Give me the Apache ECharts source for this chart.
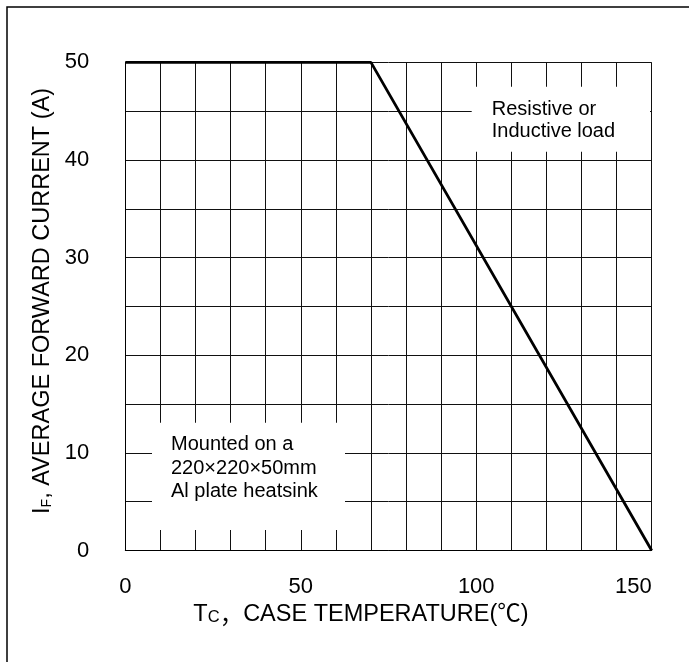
<!DOCTYPE html>
<html>
<head>
<meta charset="utf-8">
<script src="https://cdn.jsdelivr.net/npm/echarts@6/dist/echarts.min.js"></script>
<style>
  html, body { margin: 0; padding: 0; background: #fff; }
  #chart { width: 689px; height: 662px; }
</style>
</head>
<body>
<div id="chart"></div>
<script>
// derating curve: case temperature (°C) vs average forward current (A)
var caseTemp = [0, 70, 150];
var fwdCurrent = [50, 50, 0];

var xTickLabels = [0, 50, 100, 150];
var yTickLabels = [0, 10, 20, 30, 40, 50];

var loadNote = ['Resistive or', 'Inductive load'];
var mountNote = ['Mounted on a', '220×220×50mm', 'Al plate heatsink'];

var FONT = '"Liberation Sans", Arial, "Noto Sans CJK SC", sans-serif';

var chart = echarts.init(document.getElementById('chart'));

var gridLine = { show: true, lineStyle: { color: '#111', width: 1 } };

var option = {
    backgroundColor: '#fff',
    animation: false,
    grid: { left: 125.3, right: 37.3, top: 62.4, bottom: 111.5, containLabel: false },
    xAxis: {
        type: 'value',
        min: 0,
        max: 150,
        interval: 50,
        axisLine: { show: true, onZero: false, lineStyle: { color: '#000', width: 1 } },
        axisTick: { show: false },
        axisLabel: {
            margin: 25,
            fontSize: 22,
            fontFamily: FONT,
            color: '#000',
            alignMaxLabel: 'right',
            formatter: function (v) { return xTickLabels.indexOf(v) >= 0 ? String(v) : ''; }
        },
        splitLine: gridLine,
        minorTick: { show: false, splitNumber: 5 },
        minorSplitLine: gridLine,
        name: '{b|T}{s|C}{c|，}{b|CASE TEMPERATURE(℃)}',
        nameLocation: 'middle',
        nameGap: 52,
        nameTextStyle: {
            padding: [0, 55, 0, 0],
            rich: {
                b: { fontSize: 23.5, fontFamily: FONT, color: '#000' },
                s: { fontSize: 16.5, fontFamily: FONT, color: '#000', verticalAlign: 'bottom' },
                c: { fontSize: 23.5, fontFamily: '"Noto Sans CJK SC", sans-serif', color: '#000' }
            }
        }
    },
    yAxis: {
        type: 'value',
        min: 0,
        max: 50,
        interval: 10,
        axisLine: { show: true, onZero: false, lineStyle: { color: '#000', width: 1 } },
        axisTick: { show: false },
        axisLabel: {
            margin: 36,
            fontSize: 22,
            fontFamily: FONT,
            color: '#000',
            formatter: function (v) { return yTickLabels.indexOf(v) >= 0 ? String(v) : ''; }
        },
        splitLine: gridLine,
        minorTick: { show: false, splitNumber: 2 },
        minorSplitLine: gridLine,
        name: '{b|I}{s|F}{b|, AVERAGE FORWARD CURRENT (A)}',
        nameLocation: 'middle',
        nameRotate: 90,
        nameGap: 68,
        nameTextStyle: {
            padding: [0, 0, 0, 11],
            rich: {
                b: { fontSize: 23.5, fontFamily: FONT, color: '#000' },
                s: { fontSize: 14, fontFamily: FONT, color: '#000', verticalAlign: 'bottom' }
            }
        }
    },
    series: [{
        type: 'line',
        data: caseTemp.map(function (t, i) { return [t, fwdCurrent[i]]; }),
        symbol: 'none',
        lineStyle: { color: '#000', width: 2.8 },
        z: 5
    }],
    graphic: [
        {
            type: 'rect', z: 0, silent: true,
            shape: { x: 7, y: 7, width: 800, height: 800 },
            style: { fill: 'none', stroke: '#000', lineWidth: 1.5 }
        },
        {
            type: 'rect', z: 100, silent: true,
            shape: { x: 471.7, y: 86.7, width: 178.3, height: 65 },
            style: { fill: '#fff' }
        },
        {
            type: 'text', z: 101, silent: true,
            style: {
                x: 491.7, y: 98.1, text: loadNote.join('\n'),
                font: '20px ' + FONT, lineHeight: 22.4,
                textVerticalAlign: 'top', fill: '#000'
            }
        },
        {
            type: 'rect', z: 100, silent: true,
            shape: { x: 152, y: 422.7, width: 193, height: 107.3 },
            style: { fill: '#fff' }
        },
        {
            type: 'text', z: 101, silent: true,
            style: {
                x: 171, y: 433.3, text: mountNote.join('\n'),
                font: '20px ' + FONT, lineHeight: 23.3,
                textVerticalAlign: 'top', fill: '#000'
            }
        }
    ]
};

chart.setOption(option);
</script>
</body>
</html>
